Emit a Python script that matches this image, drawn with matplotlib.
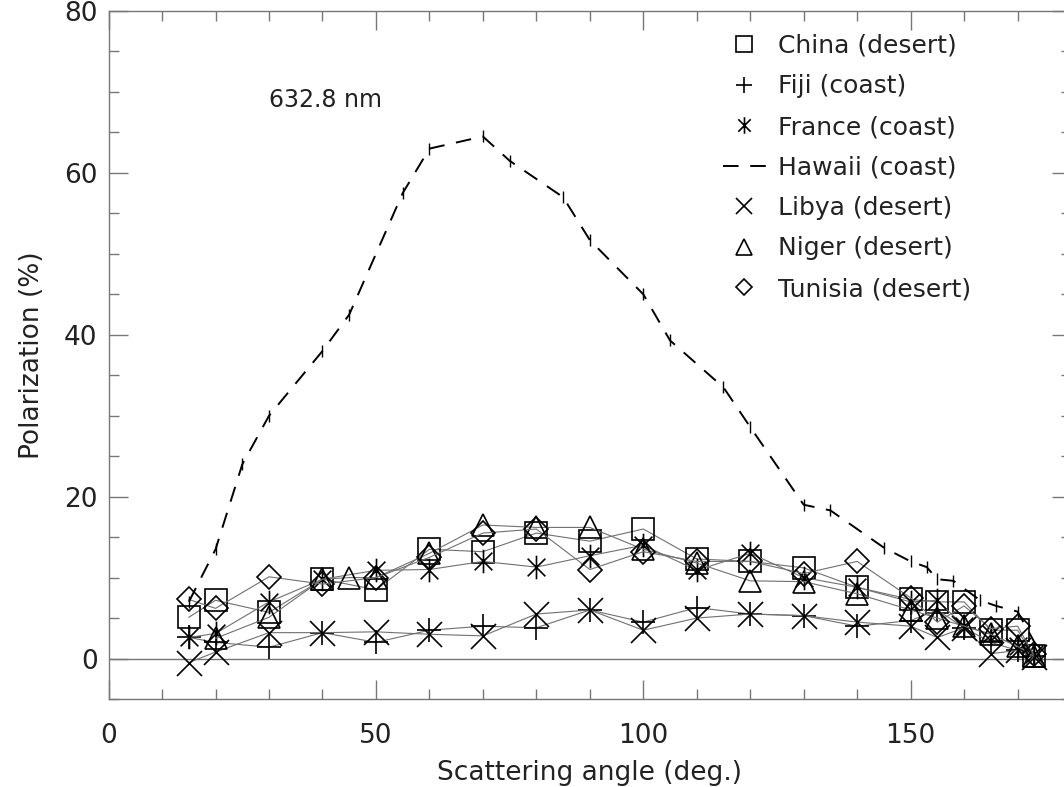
import matplotlib
matplotlib.use("Agg")
import matplotlib.pyplot as plt
from matplotlib.path import Path
from matplotlib.lines import Line2D
from matplotlib.ticker import MultipleLocator

# Polarization vs scattering angle, 632.8 nm
angles = [15, 20, 30, 40, 50, 60, 70, 80, 90, 100, 110, 120, 130, 140, 150, 155, 160, 165, 170, 173]
angles_niger = [20, 30, 40, 45, 50, 60, 70, 80, 90, 100, 110, 120, 130, 140, 150, 155, 160, 165, 170, 173]

china = [5.1, 7.2, 5.7, 9.8, 8.5, 13.5, 13.2, 15.5, 14.5, 16.0, 12.3, 12.0, 11.2, 8.8, 7.3, 7.0, 7.0, 3.5, 3.5, 0.3]
fiji = [2.6, 2.0, 1.4, 3.2, 2.0, 3.5, 4.0, 3.8, 6.0, 4.5, 6.3, 5.5, 5.3, 4.0, 4.7, 6.0, 3.8, 2.0, 1.0, 0.3]
france = [2.6, 3.1, 7.0, 9.8, 10.9, 11.0, 12.0, 11.3, 12.7, 14.0, 10.9, 13.0, 10.0, 8.8, 7.0, 7.2, 4.0, 3.0, 1.5, 0.5]
libya = [-0.5, 0.8, 3.2, 3.2, 3.3, 3.0, 2.8, 5.5, 6.0, 3.5, 5.0, 5.5, 5.3, 4.5, 4.0, 2.6, 3.8, 0.6, 1.0, 0.2]
niger = [2.5, 5.1, 9.8, 10.0, 10.0, 13.0, 16.5, 16.2, 16.2, 13.5, 11.8, 9.6, 9.5, 8.0, 6.0, 5.0, 4.0, 3.0, 1.5, 0.3]
tunisia = [7.3, 6.2, 10.1, 9.2, 10.0, 12.5, 15.5, 16.0, 11.0, 13.2, 12.0, 12.0, 10.5, 12.0, 7.5, 4.5, 6.5, 3.7, 4.0, 0.5]

hawaii_angles = [15, 20, 25, 30, 40, 45, 55, 60, 70, 75, 85, 90, 100, 105, 115, 120,
                 130, 135, 145, 150, 153, 155, 158, 163, 166, 170, 174]
hawaii = [7.0, 13.5, 24.0, 30.0, 38.0, 42.5, 57.5, 63.0, 64.5, 61.5, 57.0, 51.7, 45.0, 39.3, 33.5, 28.6,
          19.0, 18.3, 13.7, 12.0, 11.3, 9.8, 9.6, 7.2, 6.5, 5.8, 1.0]

labels = ["China (desert)", "Fiji (coast)", "France (coast)", "Hawaii (coast)",
          "Libya (desert)", "Niger (desert)", "Tunisia (desert)"]

# IDL-like asterisk: vertical stroke plus two diagonals
asterisk = Path([(0, -1), (0, 1), (-0.75, -0.75), (0.75, 0.75), (-0.75, 0.75), (0.75, -0.75)],
                [Path.MOVETO, Path.LINETO, Path.MOVETO, Path.LINETO, Path.MOVETO, Path.LINETO])

plt.rcParams['font.family'] = ['DejaVu Sans']
ink = '#222222'
fig = plt.figure(figsize=(10.64, 7.87), dpi=100)
ax = fig.add_axes([0.1021, 0.1118, 0.9045, 0.8742])

ax.axhline(0, color='#777777', lw=1.0, zorder=1)

line_kw = dict(color='#707070', lw=0.8, mfc='none', mec='black', mew=1.2, zorder=3)
series = [
    (angles, china, 's', 15.5),
    (angles, fiji, '+', 17),
    (angles, france, asterisk, 17),
    (angles, libya, 'x', 18),
    (angles_niger, niger, '^', 15.5),
    (angles, tunisia, 'D', 12),
]
for xs, ys, m, ms in series:
    ax.plot(xs, ys, marker=m, ms=ms, **line_kw)

ax.plot(hawaii_angles, hawaii, color='black', lw=1.4, dashes=(8, 6),
        marker='|', ms=9, mew=1.0, zorder=4)

ax.text(30, 69, '632.8 nm', fontsize=17, color=ink, ha='left', va='center')

ax.set_xlim(0, 180)
ax.set_ylim(-5, 80)
ax.xaxis.set_major_locator(MultipleLocator(50))
ax.xaxis.set_minor_locator(MultipleLocator(10))
ax.yaxis.set_major_locator(MultipleLocator(20))
ax.yaxis.set_minor_locator(MultipleLocator(5))
ax.tick_params(which='both', direction='in', top=True, right=True, color='#777777', width=1.0,
               labelsize=19, labelcolor=ink)
ax.tick_params(which='major', length=14)
ax.tick_params(which='minor', length=7.5)
ax.tick_params(axis='y', pad=8)
ax.tick_params(axis='x', pad=17)
for s in ax.spines.values():
    s.set_color('#777777')
    s.set_linewidth(1.0)

ax.set_xlabel('Scattering angle (deg.)', fontsize=19, color=ink, labelpad=8)
ax.set_ylabel('Polarization (%)', fontsize=19, color=ink, labelpad=14)

# legend: markers only, Hawaii as dashed line
handles = [
    Line2D([], [], ls='none', marker='s', ms=15.5, mfc='none', mec='black', mew=1.2),
    Line2D([], [], ls='none', marker='+', ms=17, mec='black', mew=1.2),
    Line2D([], [], ls='none', marker=asterisk, ms=17, mec='black', mew=1.2),
    Line2D([], [], color='black', lw=1.4, dashes=(8, 6)),
    Line2D([], [], ls='none', marker='x', ms=17, mec='black', mew=1.2),
    Line2D([], [], ls='none', marker='^', ms=15.5, mfc='none', mec='black', mew=1.2),
    Line2D([], [], ls='none', marker='D', ms=12, mfc='none', mec='black', mew=1.2),
]
leg = ax.legend(handles, labels, loc='upper left', bbox_to_anchor=(723 / 1064, 1 - 34 / 787),
                bbox_transform=fig.transFigure, frameon=False, fontsize=18, markerscale=0.7,
                handlelength=1.7, handletextpad=0.5, labelspacing=0.66, borderpad=0, borderaxespad=0)
for t in leg.get_texts():
    t.set_color(ink)

fig.savefig('out.png', dpi=100)
